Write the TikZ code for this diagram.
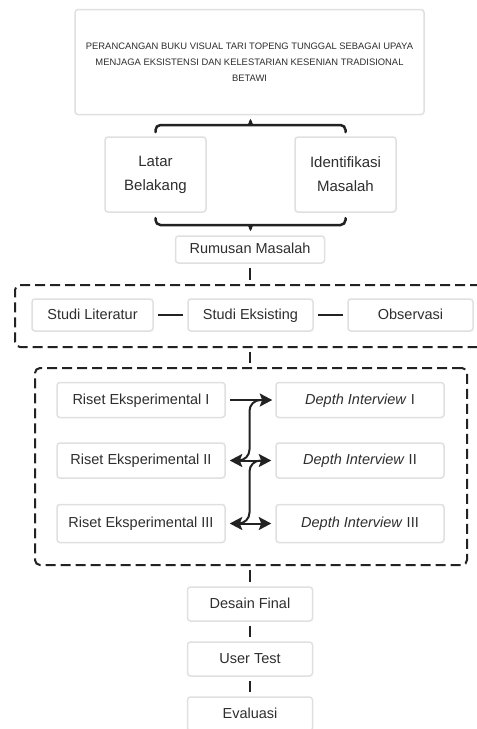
\documentclass[tikz,border=0pt]{standalone}
\usepackage{fontspec}
\setmainfont{Liberation Sans}
\usetikzlibrary{arrows.meta}
\definecolor{boxgray}{HTML}{E0E0E0}
\definecolor{ink}{HTML}{222222}
\definecolor{txt}{HTML}{2E2E2E}
\begin{document}
\begin{tikzpicture}[x=1pt,y=-1pt,
  bx/.style={draw=boxgray, line width=1.5pt, rounded corners=3pt, inner sep=0pt,
    text=txt, font=\fontsize{14.5}{17}\selectfont, align=center},
  one/.style={text height=10.5pt, text depth=2pt},
  ln/.style={draw=ink, line width=2pt, shorten <=4pt, shorten >=4pt},
  framebox/.style={draw=ink, line width=2pt, dash pattern=on 10pt off 5pt,
    rounded corners=5pt, inner sep=0pt},
  tipx/.tip={Stealth[length=12.5pt,width=13pt,inset=2.5pt]},
  arr/.style={draw=ink, line width=2pt, -tipx},
  darr/.style={draw=ink, line width=2pt, tipx-tipx},
  curvy/.style={draw=ink, line width=2pt, rounded corners=11pt},
  bracestyle/.style={draw=ink, line width=2.5pt, line cap=round, rounded corners=5pt}
]
\useasboundingbox (0,0) rectangle (477,729);
\clip (0,0) rectangle (477,729);
\fill[white] (0,0) rectangle (477,729);

% top title box
\node[bx, minimum width=349pt, minimum height=105pt,
  font=\fontsize{9.4}{16}\selectfont] (title) at (249.5,62)
  {PERANCANGAN BUKU VISUAL TARI TOPENG TUNGGAL SEBAGAI UPAYA\\
   MENJAGA EKSISTENSI DAN KELESTARIAN KESENIAN TRADISIONAL\\
   BETAWI};

% latar / identifikasi
\node[bx, minimum width=101pt, minimum height=75pt, font=\fontsize{15}{24}\selectfont]
  (lb) at (155.5,174.5) {Latar\\Belakang};
\node[bx, minimum width=101pt, minimum height=75pt, font=\fontsize{15}{24}\selectfont]
  (im) at (345.5,174.5) {Identifikasi\\Masalah};

% braces
\draw[bracestyle] (155.5,132) |- (245,125)
  .. controls (248.5,125) and (250,123) .. (250.5,118.5)
  .. controls (251,123) and (252.5,125) .. (256,125) -| (345.5,132);
\draw[bracestyle] (155.5,218) |- (245,225)
  .. controls (248.5,225) and (250,227) .. (250.5,231.5)
  .. controls (251,227) and (252.5,225) .. (256,225) -| (345.5,218);

% rumusan
\node[bx, one, minimum width=149pt, minimum height=27pt] (rm) at (250,249.5) {Rumusan Masalah};

% frame 1
\node[framebox, minimum width=485pt, minimum height=62pt] (f1) at (257.5,316) {};
\node[bx, one, minimum width=121pt, minimum height=32pt] (sl) at (92.5,315) {Studi Literatur};
\node[bx, one, minimum width=125pt, minimum height=32pt] (se) at (250.5,315) {Studi Eksisting};
\node[bx, one, minimum width=125pt, minimum height=32pt] (ob) at (410.5,315) {Observasi};
\draw[ln] (sl.east) -- (se.west);
\draw[ln] (se.east) -- (ob.west);

% frame 2
\node[framebox, minimum width=432pt, minimum height=197pt] (f2) at (251,466.5) {};
\node[bx, one, minimum width=168pt, minimum height=35pt] (r1) at (141,400) {Riset Eksperimental I};
\node[bx, one, minimum width=168pt, minimum height=35pt] (r2) at (141,460.5) {Riset Eksperimental II};
\node[bx, one, minimum width=168pt, minimum height=38pt] (r3) at (141,523.5) {Riset Eksperimental III};
\node[bx, one, minimum width=168pt, minimum height=35pt] (d1) at (360,400) {\textit{Depth Interview} I};
\node[bx, one, minimum width=168pt, minimum height=35pt] (d2) at (360,460.5) {\textit{Depth Interview} II};
\node[bx, one, minimum width=168pt, minimum height=38pt] (d3) at (360,523.5) {\textit{Depth Interview} III};

\draw[arr, shorten <=4pt, shorten >=3pt] (r1.east) -- (d1.west);
\draw[darr, shorten <=4pt, shorten >=4pt] (r2.east) -- (d2.west);
\draw[darr, shorten <=4pt, shorten >=4pt] (r3.east) -- (d3.west);
\draw[curvy] (262,400) -| (249.5,430) |- (240,460.5);
\draw[curvy] (260,460.5) -| (249.5,492) |- (240,523.5);

% bottom chain
\node[bx, one, minimum width=125pt, minimum height=34pt] (df) at (250,604) {Desain Final};
\node[bx, one, minimum width=125pt, minimum height=34pt] (ut) at (250,659) {User Test};
\node[bx, one, minimum width=125pt, minimum height=34pt] (ev) at (250,714) {Evaluasi};

% connectors
\draw[ln] (rm.south) -- (rm.south |- f1.north);
\draw[ln] (f1.south -| rm.south) -- (f2.north -| rm.south);
\draw[ln] (f2.south -| df.north) -- (df.north);
\draw[ln] (df.south) -- (ut.north);
\draw[ln] (ut.south) -- (ev.north);
\end{tikzpicture}
\end{document}
